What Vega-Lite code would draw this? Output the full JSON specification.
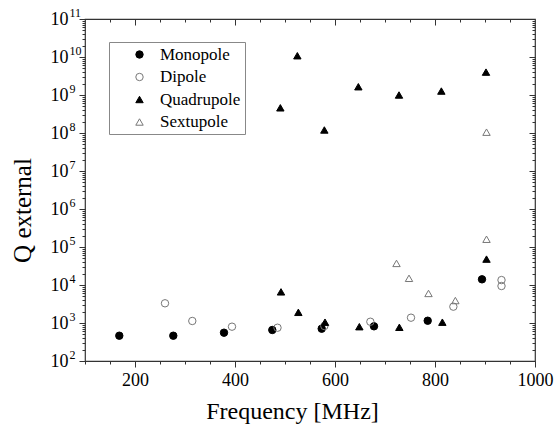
{
  "$schema": "https://vega.github.io/schema/vega-lite/v6.json",
  "width": 450,
  "height": 342,
  "autosize": {"type": "none"},
  "padding": {"left": 85, "top": 19, "right": 21, "bottom": 65},
  "background": "white",
  "config": {"view": {"stroke": "#333333", "strokeWidth": 1.2}, "font": "Liberation Serif, Times New Roman, serif",
    "axis": {"grid": false, "domain": false, "tickColor": "#333333", "labelColor": "black", "titleColor": "black"}},
  "data": {"values": [
    {"t": "Monopole", "f": 168.6, "q": 463},
    {"t": "Monopole", "f": 276.6, "q": 463},
    {"t": "Monopole", "f": 378, "q": 556},
    {"t": "Monopole", "f": 474.6, "q": 655},
    {"t": "Monopole", "f": 573.4, "q": 708},
    {"t": "Monopole", "f": 678, "q": 818},
    {"t": "Monopole", "f": 785.4, "q": 1148},
    {"t": "Monopole", "f": 894, "q": 14100},
    {"t": "Dipole", "f": 260, "q": 3300},
    {"t": "Dipole", "f": 314.6, "q": 1130},
    {"t": "Dipole", "f": 394, "q": 800},
    {"t": "Dipole", "f": 485, "q": 751},
    {"t": "Dipole", "f": 578.7, "q": 833},
    {"t": "Dipole", "f": 670.7, "q": 1080},
    {"t": "Dipole", "f": 752, "q": 1380},
    {"t": "Dipole", "f": 836.7, "q": 2690},
    {"t": "Dipole", "f": 933, "q": 13500},
    {"t": "Dipole", "f": 933, "q": 9400},
    {"t": "Quadrupole", "f": 492, "q": 6600},
    {"t": "Quadrupole", "f": 526.7, "q": 1910},
    {"t": "Quadrupole", "f": 580, "q": 1050},
    {"t": "Quadrupole", "f": 648.7, "q": 800},
    {"t": "Quadrupole", "f": 728.7, "q": 771},
    {"t": "Quadrupole", "f": 814.7, "q": 1050},
    {"t": "Quadrupole", "f": 490.7, "q": 460000000},
    {"t": "Quadrupole", "f": 524.7, "q": 10800000000},
    {"t": "Quadrupole", "f": 578.7, "q": 120000000},
    {"t": "Quadrupole", "f": 646.7, "q": 1650000000},
    {"t": "Quadrupole", "f": 728, "q": 1000000000},
    {"t": "Quadrupole", "f": 812.7, "q": 1270000000},
    {"t": "Quadrupole", "f": 902, "q": 4000000000},
    {"t": "Quadrupole", "f": 903, "q": 48000},
    {"t": "Sextupole", "f": 723, "q": 37000},
    {"t": "Sextupole", "f": 748, "q": 15000},
    {"t": "Sextupole", "f": 787, "q": 6000},
    {"t": "Sextupole", "f": 840.7, "q": 3900},
    {"t": "Sextupole", "f": 903, "q": 160000},
    {"t": "Sextupole", "f": 903, "q": 105000000}
  ]},
  "layer": [
    {
      "mark": {"type": "point", "filled": true, "size": 55, "strokeWidth": 1, "opacity": 1},
      "encoding": {
        "x": {
          "field": "f", "type": "quantitative",
          "scale": {"domain": [100, 1000], "nice": false, "zero": false},
          "axis": {
            "orient": "bottom",
            "values": [200, 400, 600, 800, 1000],
            "format": "d",
            "tickSize": 6,
            "labelFontSize": 18,
            "labelOverlap": false, "labelFlush": false, "labelPadding": 4,
            "title": "Frequency [MHz]", "titleFontSize": 24, "titleFontWeight": "normal",
            "titleX": 207, "titleY": 57, "titleBaseline": "alphabetic"
          }
        },
        "y": {
          "field": "q", "type": "quantitative",
          "scale": {"type": "log", "domain": [100, 100000000000], "nice": false},
          "axis": {
            "orient": "left",
            "values": [100, 1000, 10000, 100000, 1000000, 10000000, 100000000, 1000000000, 10000000000, 100000000000],
            "labelExpr": "'10'",
            "tickSize": 6,
            "labelFontSize": 18,
            "labelOverlap": false, "labelFlush": false, "labelPadding": 11,
            "title": "Q external", "titleFontSize": 25, "titleFontWeight": "normal",
            "titleX": -55, "titleY": 191, "titleBaseline": "alphabetic"
          }
        },
        "shape": {
          "field": "t", "type": "nominal",
          "scale": {"domain": ["Monopole", "Dipole", "Quadrupole", "Sextupole"], "range": ["circle", "circle", "triangle-up", "triangle-up"]},
          "legend": {
            "orient": "none", "legendX": 24, "legendY": 23, "title": null,
            "labelFontSize": 17, "labelColor": "black",
            "strokeColor": "#888", "fillColor": "white", "padding": 4,
            "symbolOffset": 18, "labelOffset": 12, "rowPadding": 4.5, "symbolSize": 55, "symbolStrokeWidth": 1, "symbolOpacity": 1
          }
        },
        "fill": {
          "field": "t", "type": "nominal",
          "scale": {"domain": ["Monopole", "Dipole", "Quadrupole", "Sextupole"], "range": ["black", "transparent", "black", "transparent"]}
        },
        "stroke": {
          "field": "t", "type": "nominal",
          "scale": {"domain": ["Monopole", "Dipole", "Quadrupole", "Sextupole"], "range": ["black", "#777777", "black", "#777777"]}
        }
      }
    },
    {
      "mark": {"type": "point", "opacity": 0},
      "encoding": {
        "x": {
          "field": "f", "type": "quantitative",
          "scale": {"domain": [100, 1000], "nice": false, "zero": false},
          "axis": {
            "orient": "bottom", "labels": false, "title": null, "tickSize": 3,
            "values": [100,150,250,300,350,450,500,550,650,700,750,850,900,950]
          }
        },
        "y": {
          "field": "q", "type": "quantitative",
          "scale": {"type": "log", "domain": [100, 100000000000], "nice": false},
          "axis": {
            "orient": "left", "labels": false, "title": null, "tickSize": 3,
            "values": [200,300,400,500,600,700,800,900,2000,3000,4000,5000,6000,7000,8000,9000,20000,30000,40000,50000,60000,70000,80000,90000,200000,300000,400000,500000,600000,700000,800000,900000,2000000,3000000,4000000,5000000,6000000,7000000,8000000,9000000,20000000,30000000,40000000,50000000,60000000,70000000,80000000,90000000,200000000,300000000,400000000,500000000,600000000,700000000,800000000,900000000,2000000000,3000000000,4000000000,5000000000,6000000000,7000000000,8000000000,9000000000,20000000000,30000000000,40000000000,50000000000,60000000000,70000000000,80000000000,90000000000]
          }
        }
      }
    },
    {
      "mark": {"type": "point", "opacity": 0},
      "encoding": {
        "x": {
          "field": "f", "type": "quantitative",
          "scale": {"domain": [100, 1000], "nice": false, "zero": false},
          "axis": {
            "orient": "top", "labels": false, "title": null, "tickSize": 3, "offset": -3,
            "values": [150,250,300,350,450,500,550,650,700,750,850,900,950]
          }
        },
        "y": {
          "field": "q", "type": "quantitative",
          "scale": {"type": "log", "domain": [100, 100000000000], "nice": false},
          "axis": {
            "orient": "right", "labels": false, "title": null, "tickSize": 3, "offset": -3,
            "values": [200,300,400,500,600,700,800,900,2000,3000,4000,5000,6000,7000,8000,9000,20000,30000,40000,50000,60000,70000,80000,90000,200000,300000,400000,500000,600000,700000,800000,900000,2000000,3000000,4000000,5000000,6000000,7000000,8000000,9000000,20000000,30000000,40000000,50000000,60000000,70000000,80000000,90000000,200000000,300000000,400000000,500000000,600000000,700000000,800000000,900000000,2000000000,3000000000,4000000000,5000000000,6000000000,7000000000,8000000000,9000000000,20000000000,30000000000,40000000000,50000000000,60000000000,70000000000,80000000000,90000000000]
          }
        }
      }
    },
    {
      "mark": {"type": "point", "opacity": 0},
      "encoding": {
        "x": {
          "field": "f", "type": "quantitative",
          "scale": {"domain": [100, 1000], "nice": false, "zero": false},
          "axis": {
            "orient": "top", "labels": false, "title": null, "tickSize": 6, "offset": -6,
            "values": [200, 400, 600, 800]
          }
        },
        "y": {
          "field": "q", "type": "quantitative",
          "scale": {"type": "log", "domain": [100, 100000000000], "nice": false},
          "axis": {
            "orient": "right", "labels": false, "title": null, "tickSize": 6, "offset": -6,
            "values": [1000, 10000, 100000, 1000000, 10000000, 100000000, 1000000000, 10000000000]
          }
        }
      }
    },
    {
      "mark": {"type": "point", "opacity": 0},
      "encoding": {
        "x": {
          "field": "f", "type": "quantitative",
          "scale": {"domain": [100, 1000], "nice": false, "zero": false},
          "axis": null
        },
        "y": {
          "field": "q", "type": "quantitative",
          "scale": {"type": "log", "domain": [100, 100000000000], "nice": false},
          "axis": {
            "orient": "left", "title": null, "ticks": false, "tickSize": 0,
            "values": [100, 1000, 10000, 100000, 1000000, 10000000, 100000000, 1000000000, 10000000000, 100000000000],
            "labelExpr": "round(log(datum.value)/LN10) + ''",
            "labelAlign": "left", "labelBaseline": "middle", "labelOffset": -7,
            "labelPadding": 16, "labelFontSize": 12,
            "labelOverlap": false, "labelFlush": false
          }
        }
      }
    }
  ],
  "resolve": {"axis": {"x": "independent", "y": "independent"}}
}
